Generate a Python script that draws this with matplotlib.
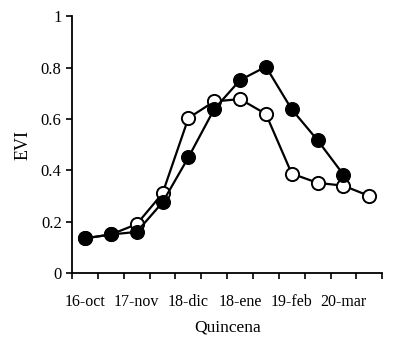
import matplotlib
matplotlib.use("Agg")
import matplotlib.pyplot as plt
import numpy as np

categories = list(range(1, 13))
tick_labels = ["16-oct", "", "17-nov", "", "18-dic", "", "18-ene", "", "19-feb", "", "20-mar", ""]
filled_vals = [0.135, 0.15, 0.16, 0.275, 0.45, 0.638, 0.751, 0.803, 0.637, 0.517, 0.383]
open_vals = [0.135, 0.15, 0.19, 0.31, 0.603, 0.668, 0.677, 0.619, 0.387, 0.351, 0.34, 0.30]

plt.rcParams['font.family'] = ['Liberation Serif', 'DejaVu Serif']

fig = plt.figure(figsize=(3.94, 3.43), dpi=100)
ax = fig.add_axes([0.183, 0.204, 0.787, 0.749])

x_open = np.arange(len(open_vals))
x_filled = np.arange(len(filled_vals))
ax.plot(x_open, open_vals, color='black', lw=1.6, marker='o', ms=9.5,
        mfc='white', mec='black', mew=1.4, zorder=2)
ax.plot(x_filled, filled_vals, color='black', lw=1.6, marker='o', ms=9.8,
        mfc='black', mec='black', zorder=3)

ax.set_xlim(-0.5, 11.5)
ax.set_ylim(0, 1)
ax.set_xticks(np.arange(-0.5, 12, 1))
ax.set_xticklabels([])
ax.set_xticks(np.arange(0, 12, 1), minor=True)
ax.set_xticklabels(tick_labels, minor=True)
ax.tick_params(axis='x', which='minor', length=0, pad=15, labelsize=11.5)
ax.tick_params(axis='x', which='major', length=4, width=1.2, direction='out')
ax.set_yticks([0, 0.2, 0.4, 0.6, 0.8, 1.0])
ax.set_yticklabels(["0", "0.2", "0.4", "0.6", "0.8", "1"])
ax.tick_params(axis='y', length=4, width=1.2, direction='out', labelsize=12)

for s in ['top', 'right']:
    ax.spines[s].set_visible(False)
for s in ['left', 'bottom']:
    ax.spines[s].set_linewidth(1.3)

ax.set_xlabel("Quincena", fontsize=12.5, labelpad=7)
ax.set_ylabel("EVI", fontsize=13, labelpad=7)

fig.savefig("out.png", dpi=100)
